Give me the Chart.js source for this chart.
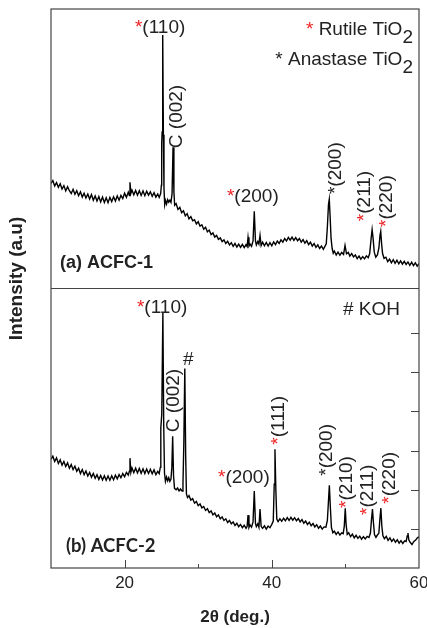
<!DOCTYPE html>
<html>
<head>
<meta charset="utf-8">
<script src="https://cdn.jsdelivr.net/npm/chart.js@4"></script>
<style>
  html, body { margin: 0; padding: 0; background: #fff; }
  #xrd { display: block; }
</style>
</head>
<body>
<canvas id="xrd" width="427" height="628"></canvas>
<script>
// XRD patterns: [2theta (deg), intensity (a.u., 0-100 per panel)]
const acfc1 = [
  [10.00,37.6],[10.25,38.6],[10.50,36.7],[10.75,37.9],[11.00,36.2],[11.25,37.5],[11.50,35.6],[11.75,36.8],
  [12.00,34.9],[12.25,36.4],[12.50,35.0],[12.75,34.0],[13.00,35.5],[13.25,33.7],[13.50,35.0],[13.75,33.2],
  [14.00,34.6],[14.25,32.7],[14.50,34.1],[14.75,32.4],[15.00,33.8],[15.25,32.0],[15.50,33.6],[15.75,31.6],
  [16.00,33.1],[16.25,31.3],[16.50,32.9],[16.75,31.0],[17.00,32.7],[17.25,30.8],[17.50,32.5],[17.75,30.7],
  [18.00,32.6],[18.25,31.1],[18.50,32.8],[18.75,31.3],[19.00,33.1],[19.25,31.6],[19.50,33.3],[19.75,32.2],
  [20.00,34.1],[20.25,32.6],[20.50,34.5],[20.65,33.3],[20.73,38.0],[20.85,34.0],[21.00,35.2],[21.25,33.5],
  [21.50,35.1],[21.75,33.4],[22.00,35.0],[22.25,33.3],[22.50,34.9],[22.75,33.2],[23.00,34.8],[23.25,33.4],
  [23.50,34.6],[23.75,33.0],[24.00,34.3],[24.25,32.7],[24.50,33.8],[24.70,32.6],[24.90,34.0],[25.00,37.0],
  [25.04,52.0],[25.10,56.0],[25.18,90.7],[25.27,55.0],[25.35,36.0],[25.45,30.0],[25.56,31.5],[25.70,30.2],
  [25.85,31.8],[26.00,30.9],[26.15,31.6],[26.30,30.8],[26.45,34.0],[26.58,50.5],[26.70,34.5],[26.80,29.8],
  [27.00,30.4],[27.25,28.3],[27.50,29.0],[27.75,27.1],[28.00,27.8],[28.25,26.0],[28.50,26.8],[28.75,24.9],
  [29.00,25.7],[29.25,24.2],[29.50,24.6],[29.75,23.1],[30.00,23.9],[30.25,22.3],[30.50,22.8],[30.75,21.2],
  [31.00,21.9],[31.25,20.3],[31.50,20.9],[31.75,19.3],[32.00,19.9],[32.25,18.4],[32.50,19.0],[32.75,17.6],
  [33.00,18.1],[33.25,16.8],[33.50,17.4],[33.75,16.1],[34.00,16.9],[34.25,15.6],[34.50,16.4],[34.75,15.1],
  [35.00,16.1],[35.25,14.8],[35.50,15.9],[35.75,14.7],[36.00,15.8],[36.25,14.6],[36.50,15.7],[36.65,15.0],
  [36.77,18.3],[36.90,15.2],[37.05,15.9],[37.25,15.1],[37.45,17.0],[37.62,27.6],[37.78,17.0],[37.90,15.6],
  [38.10,16.8],[38.25,15.9],[38.40,19.0],[38.55,15.4],[38.75,16.6],[39.00,15.3],[39.25,16.5],[39.50,15.2],
  [39.75,16.4],[40.00,15.3],[40.25,16.7],[40.50,15.7],[40.75,17.0],[41.00,16.1],[41.25,17.4],[41.50,16.6],
  [41.75,17.9],[42.00,17.0],[42.25,18.3],[42.50,17.3],[42.75,18.4],[43.00,17.2],[43.25,18.2],[43.50,17.1],
  [43.75,17.9],[44.00,16.6],[44.25,17.5],[44.50,16.2],[44.75,17.1],[45.00,15.7],[45.25,16.6],[45.50,15.2],
  [45.75,16.1],[46.00,14.7],[46.25,15.6],[46.50,14.3],[46.75,15.2],[47.00,14.0],[47.20,15.0],[47.40,16.0],
  [47.55,22.0],[47.70,30.0],[47.81,31.9],[47.92,26.0],[48.05,18.0],[48.20,14.3],[48.35,12.6],[48.50,13.4],
  [48.75,12.0],[49.00,13.0],[49.25,11.9],[49.50,12.9],[49.75,12.2],[49.95,15.4],[50.15,12.4],[50.40,12.9],
  [50.60,11.6],[50.85,12.5],[51.10,11.3],[51.35,12.0],[51.60,10.7],[51.85,11.6],[52.10,10.5],[52.35,11.4],
  [52.60,10.6],[52.85,11.7],[53.10,11.0],[53.30,12.5],[53.50,18.0],[53.63,21.1],[53.76,18.0],[53.92,13.0],
  [54.13,11.2],[54.35,12.0],[54.55,14.5],[54.70,19.0],[54.80,20.4],[54.92,16.0],[55.05,12.5],[55.25,10.8],
  [55.50,11.2],[55.75,9.6],[56.00,10.5],[56.25,9.2],[56.50,10.3],[56.75,9.0],[57.00,10.1],[57.25,8.8],
  [57.50,9.9],[57.75,8.7],[58.00,9.7],[58.25,8.6],[58.50,9.5],[58.75,8.3],[59.00,9.4],[59.25,8.2],
  [59.50,9.2],[59.75,8.0],[60.00,8.9]
];

const acfc2 = [
  [10.00,38.9],[10.25,40.0],[10.50,38.1],[10.75,39.4],[11.00,37.4],[11.25,38.7],[11.50,36.8],[11.75,38.1],
  [12.00,36.3],[12.25,37.6],[12.50,35.7],[12.75,37.0],[13.00,35.2],[13.25,36.4],[13.50,34.6],[13.75,35.7],
  [14.00,33.8],[14.25,35.2],[14.50,33.4],[14.75,34.7],[15.00,32.9],[15.25,34.2],[15.50,32.5],[15.75,33.8],
  [16.00,32.1],[16.25,33.4],[16.50,31.7],[16.75,33.1],[17.00,31.5],[17.25,33.0],[17.50,31.4],[17.75,32.9],
  [18.00,31.4],[18.25,33.0],[18.50,31.6],[18.75,33.2],[19.00,31.9],[19.25,33.4],[19.50,32.3],[19.75,33.8],
  [20.00,32.7],[20.25,34.2],[20.50,33.2],[20.65,34.6],[20.73,39.3],[20.85,34.2],[21.00,35.8],[21.25,34.1],
  [21.50,35.7],[21.75,34.0],[22.00,35.6],[22.25,33.9],[22.50,35.5],[22.75,33.8],[23.00,35.4],[23.25,33.8],
  [23.50,35.3],[23.75,33.7],[24.00,35.1],[24.25,33.4],[24.50,34.6],[24.70,33.8],[24.85,36.0],[24.92,50.0],
  [25.05,55.0],[25.20,91.4],[25.32,50.0],[25.42,34.0],[25.55,31.0],[25.70,32.5],[25.85,31.2],[26.00,32.3],
  [26.15,31.0],[26.30,31.8],[26.42,36.0],[26.53,47.1],[26.65,33.0],[26.78,28.5],[27.00,28.0],[27.20,28.6],
  [27.40,27.6],[27.60,28.3],[27.80,27.5],[27.93,30.0],[28.05,45.0],[28.18,71.4],[28.30,40.0],[28.40,26.5],
  [28.55,25.2],[28.75,25.9],[29.00,24.3],[29.25,24.8],[29.50,23.2],[29.75,23.8],[30.00,22.3],[30.25,22.9],
  [30.50,21.5],[30.75,22.0],[31.00,20.6],[31.25,21.2],[31.50,19.8],[31.75,20.4],[32.00,19.0],[32.25,19.7],
  [32.50,18.3],[32.75,19.0],[33.00,17.6],[33.25,18.3],[33.50,17.0],[33.75,17.6],[34.00,16.3],[34.25,17.0],
  [34.50,15.8],[34.75,16.5],[35.00,15.2],[35.25,16.0],[35.50,14.8],[35.75,15.6],[36.00,14.4],[36.25,15.3],
  [36.50,14.2],[36.65,14.9],[36.77,18.9],[36.90,14.5],[37.05,15.4],[37.25,14.6],[37.45,16.5],[37.62,27.5],
  [37.78,16.0],[37.90,14.8],[38.10,15.8],[38.25,14.6],[38.40,21.1],[38.55,14.9],[38.75,14.2],[39.00,15.1],
  [39.25,13.9],[39.50,15.0],[39.75,14.4],[40.00,15.6],[40.20,16.8],[40.33,30.0],[40.43,42.5],[40.55,28.0],
  [40.68,17.5],[40.85,16.6],[41.10,17.6],[41.35,16.7],[41.60,17.8],[41.85,16.9],[42.10,18.0],[42.35,17.0],
  [42.60,18.1],[42.85,17.1],[43.10,18.0],[43.35,16.9],[43.60,17.7],[43.85,16.5],[44.10,17.3],[44.35,16.0],
  [44.60,16.8],[44.85,15.6],[45.10,16.4],[45.35,15.1],[45.60,15.9],[45.85,14.7],[46.10,15.5],[46.35,14.2],
  [46.60,15.0],[46.85,13.9],[47.10,14.7],[47.35,14.6],[47.55,17.0],[47.70,24.0],[47.82,29.6],[47.95,22.0],
  [48.10,14.5],[48.30,12.6],[48.50,13.2],[48.75,12.0],[49.00,12.9],[49.25,11.8],[49.50,12.6],[49.70,12.3],
  [49.85,15.0],[49.98,21.4],[50.10,15.5],[50.25,12.0],[50.45,12.6],[50.70,11.2],[50.95,12.1],[51.20,10.8],
  [51.45,11.7],[51.70,10.6],[51.95,11.4],[52.20,10.3],[52.45,11.2],[52.70,10.4],[52.95,11.3],[53.20,10.9],
  [53.40,12.5],[53.55,17.5],[53.68,21.1],[53.80,16.5],[53.95,12.0],[54.15,11.0],[54.35,11.8],[54.55,12.5],
  [54.70,18.0],[54.82,21.4],[54.95,15.0],[55.10,11.5],[55.30,10.5],[55.55,11.3],[55.80,9.9],[56.05,10.8],
  [56.30,9.5],[56.55,10.4],[56.80,9.2],[57.05,10.1],[57.30,8.9],[57.55,9.8],[57.80,8.8],[58.05,9.7],
  [58.25,9.5],[58.40,11.5],[58.50,12.5],[58.62,10.0],[58.80,9.2],[59.05,8.4],[59.30,9.5],[59.55,10.0],
  [59.80,10.9],[60.00,11.1]
];

const xTickLabels = [20, 40, 60];

// peak labels: panel, 2theta, intensity, star colour, text, rotated
const peakLabels = [
  { panel: 'yTop', x: 21.41, y: 91.4, star: 'red', text: '(110)' },
  { panel: 'yTop', x: 27.80, y: 50.2, star: null, text: 'C (002)', rot: true },
  { panel: 'yTop', x: 33.91, y: 31.0, star: 'red', text: '(200)' },
  { panel: 'yTop', x: 49.40, y: 33.8, star: 'black', text: '(200)', rot: true },
  { panel: 'yTop', x: 53.34, y: 24.1, star: 'red', text: '(211)', rot: true },
  { panel: 'yTop', x: 56.33, y: 22.0, star: 'red', text: '(220)', rot: true },
  { panel: 'yBot', x: 21.68, y: 91.4, star: 'red', text: '(110)' },
  { panel: 'yBot', x: 27.39, y: 48.6, star: null, text: 'C (002)', rot: true },
  { panel: 'yBot', x: 27.93, y: 72.5, star: null, text: '#' },
  { panel: 'yBot', x: 32.69, y: 30.4, star: 'red', text: '(200)' },
  { panel: 'yBot', x: 41.66, y: 44.1, star: 'red', text: '(111)', rot: true },
  { panel: 'yBot', x: 48.18, y: 33.0, star: 'black', text: '(200)', rot: true },
  { panel: 'yBot', x: 50.90, y: 21.5, star: 'red', text: '(210)', rot: true },
  { panel: 'yBot', x: 53.75, y: 19.0, star: 'red', text: '(211)', rot: true },
  { panel: 'yBot', x: 56.74, y: 23.0, star: 'red', text: '(220)', rot: true }
];

// legend-like notes, right aligned
const notes = [
  { panel: 'yTop', x: 59.18, y: 90.7, star: 'red', text: 'Rutile TiO', sub: '2' },
  { panel: 'yTop', x: 59.18, y: 79.9, star: 'black', text: 'Anastase TiO', sub: '2' },
  { panel: 'yBot', x: 57.42, y: 90.4, star: null, text: '# KOH', sub: '' }
];

const panelNames = [
  { panel: 'yTop', x: 11.22, y: 7.2, text: '(a) ACFC-1', font: 'bold 18px "Liberation Sans", Arial, sans-serif' },
  { panel: 'yBot', x: 12.04, y: 5.7, text: '(b) ACFC-2', font: 'bold 18.5px Lato, "Liberation Sans", sans-serif' }
];

const SANS = '"Liberation Sans", Arial, sans-serif';
const RED = '#ee2222';
const INK = '#222';

function toPoints(arr) {
  return arr.map(p => ({ x: p[0], y: p[1] }));
}

const decor = {
  id: 'decor',
  afterDatasetsDraw(chart) {
    const { ctx, chartArea: a, scales } = chart;
    const xs = scales.x;
    ctx.save();

    // frame + divider
    ctx.strokeStyle = '#444';
    ctx.lineWidth = 1.2;
    ctx.strokeRect(a.left, a.top, a.right - a.left, a.bottom - a.top);
    ctx.beginPath();
    ctx.moveTo(a.left, scales.yTop.bottom);
    ctx.lineTo(a.right, scales.yTop.bottom);
    ctx.stroke();

    // inward x ticks
    ctx.lineWidth = 1;
    xs.ticks.forEach(t => {
      if (t.value <= xs.min || t.value >= xs.max) return;
      const px = Math.round(xs.getPixelForValue(t.value)) + 0.5;
      const len = t.label !== '' ? 8 : 4;
      ctx.beginPath();
      ctx.moveTo(px, a.bottom);
      ctx.lineTo(px, a.bottom - len);
      ctx.stroke();
    });

    // inward right ticks, bottom panel only
    const yb = scales.yBot;
    yb.ticks.forEach(t => {
      if (t.value <= yb.min || t.value >= yb.max) return;
      const py = Math.round(yb.getPixelForValue(t.value)) + 0.5;
      ctx.beginPath();
      ctx.moveTo(a.right, py);
      ctx.lineTo(a.right - 8, py);
      ctx.stroke();
    });

    // peak labels
    ctx.font = '19px ' + SANS;
    ctx.textBaseline = 'alphabetic';
    ctx.textAlign = 'left';
    peakLabels.forEach(l => {
      const px = xs.getPixelForValue(l.x);
      const py = scales[l.panel].getPixelForValue(l.y);
      ctx.save();
      ctx.translate(px, py);
      if (l.rot) ctx.rotate(-Math.PI / 2);
      let off = 0;
      if (l.star) {
        ctx.fillStyle = l.star === 'red' ? RED : INK;
        ctx.fillText('*', 0, 0);
        off = ctx.measureText('*').width;
      }
      ctx.fillStyle = INK;
      ctx.fillText(l.text, off, 0);
      ctx.restore();
    });

    // notes (right aligned, with subscript)
    notes.forEach(n => {
      const right = xs.getPixelForValue(n.x);
      const py = scales[n.panel].getPixelForValue(n.y);
      const starTxt = n.star ? '* ' : '';
      const wStar = ctx.measureText(starTxt).width;
      const wText = ctx.measureText(n.text).width;
      const wSub = ctx.measureText(n.sub).width;
      const x0 = right - wStar - wText - wSub;
      if (n.star) {
        ctx.fillStyle = n.star === 'red' ? RED : INK;
        ctx.fillText('*', x0, py);
      }
      ctx.fillStyle = INK;
      ctx.fillText(n.text, x0 + wStar, py);
      if (n.sub) ctx.fillText(n.sub, x0 + wStar + wText, py + 8);
    });

    // panel names
    panelNames.forEach(n => {
      ctx.font = n.font;
      ctx.fillStyle = INK;
      ctx.fillText(n.text, xs.getPixelForValue(n.x), scales[n.panel].getPixelForValue(n.y));
    });

    // shared y title
    ctx.save();
    ctx.translate(22, (a.top + a.bottom) / 2 - 10);
    ctx.rotate(-Math.PI / 2);
    ctx.textAlign = 'center';
    ctx.font = 'bold 19px ' + SANS;
    ctx.fillStyle = INK;
    ctx.fillText('Intensity (a.u)', 0, 0);
    ctx.restore();

    ctx.restore();
  }
};

const lineStyle = {
  borderColor: '#000',
  borderWidth: 1.4,
  pointRadius: 0,
  tension: 0,
  fill: false
};

new Chart(document.getElementById('xrd'), {
  type: 'line',
  data: {
    datasets: [
      Object.assign({ label: 'ACFC-1', data: toPoints(acfc1), yAxisID: 'yTop' }, lineStyle),
      Object.assign({ label: 'ACFC-2', data: toPoints(acfc2), yAxisID: 'yBot' }, lineStyle)
    ]
  },
  options: {
    responsive: false,
    animation: false,
    events: [],
    layout: { padding: { left: 51, right: 8, top: 9, bottom: 0 } },
    plugins: { legend: { display: false }, tooltip: { enabled: false } },
    scales: {
      x: {
        type: 'linear',
        position: 'bottom',
        min: 10,
        max: 60,
        grid: { display: false, drawTicks: false },
        border: { display: false },
        ticks: {
          stepSize: 10,
          autoSkip: false,
          maxRotation: 0,
          padding: 5,
          color: INK,
          font: { family: SANS, size: 17 },
          callback: v => xTickLabels.includes(v) ? String(v) : ''
        },
        title: {
          display: true,
          text: '2θ (deg.)',
          color: INK,
          font: { family: SANS, size: 17, weight: 'bold' },
          padding: { top: 0, bottom: 0 }
        },
        afterFit: s => { s.height = 60; s.paddingLeft = 0; s.paddingRight = 0; }
      },
      yTop: {
        type: 'linear',
        position: 'left',
        stack: 'panels',
        stackWeight: 1,
        weight: 1,
        min: 0,
        max: 100,
        grid: { display: false, drawTicks: false },
        border: { display: false },
        ticks: { display: false },
        afterFit: s => { s.width = 0; }
      },
      yBot: {
        type: 'linear',
        position: 'left',
        stack: 'panels',
        stackWeight: 1,
        weight: 0,
        min: 0,
        max: 100,
        grid: { display: false, drawTicks: false },
        border: { display: false },
        ticks: { display: false, stepSize: 14 },
        afterFit: s => { s.width = 0; }
      }
    }
  },
  plugins: [decor]
});
</script>
</body>
</html>
